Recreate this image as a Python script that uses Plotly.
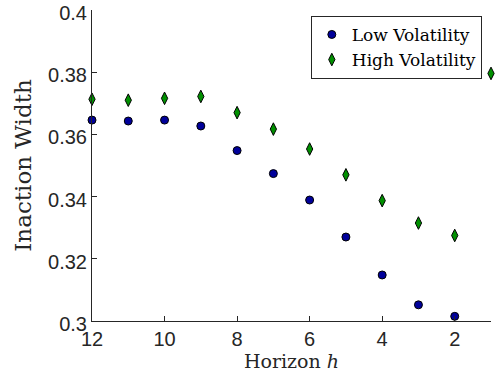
import plotly.graph_objects as go

# Horizon values (x axis runs from 12 down to 1)
horizon = [12, 11, 10, 9, 8, 7, 6, 5, 4, 3, 2, 1]

# Inaction width by horizon for each volatility regime
low_vol = [0.3646, 0.3643, 0.3646, 0.3627, 0.3548, 0.3474, 0.3389, 0.3270, 0.3148, 0.3052, 0.3015, None]
high_vol = [0.3713, 0.3710, 0.3716, 0.3722, 0.3670, 0.3617, 0.3553, 0.3470, 0.3387, 0.3315, 0.3275, 0.3796]

x_ticks = [12, 10, 8, 6, 4, 2]
y_ticks = [0.30, 0.32, 0.34, 0.36, 0.38, 0.40]
y_tick_text = ["0.3", "0.32", "0.34", "0.36", "0.38", "0.4"]

axis_color = "#262626"
serif = "DejaVu Serif"
sans = "Liberation Sans, Arial, sans-serif"

fig = go.Figure()
fig.add_trace(go.Scatter(
    x=horizon, y=low_vol, mode="markers", name="Low Volatility",
    marker=dict(symbol="circle", size=8, color="#00009a",
                line=dict(color="black", width=1)),
    cliponaxis=False,
))
fig.add_trace(go.Scatter(
    x=horizon, y=high_vol, mode="markers", name="High Volatility",
    marker=dict(symbol="diamond-tall", size=9, color="#009000",
                line=dict(color="black", width=1)),
    cliponaxis=False,
))

fig.update_layout(
    width=497, height=386,
    margin=dict(l=92, r=6, t=10, b=65, autoexpand=False),
    paper_bgcolor="white", plot_bgcolor="white",
    showlegend=True,
    legend=dict(
        x=0.977, xanchor="right", y=0.981, yanchor="top",
        bgcolor="white", bordercolor=axis_color, borderwidth=1,
        font=dict(family=serif, size=17, color="black"),
        tracegroupgap=0, itemwidth=30,
    ),
)

fig.update_xaxes(
    range=[12, 1], tickvals=x_ticks, ticktext=[str(v) for v in x_ticks],
    automargin=False,
    showline=True, linecolor=axis_color, linewidth=1,
    ticks="inside", ticklen=5, tickcolor=axis_color,
    showgrid=False, zeroline=False,
    tickfont=dict(family=sans, size=20, color=axis_color),
    title=dict(text="Horizon <i>h</i>", standoff=5,
               font=dict(family=serif, size=19, color=axis_color)),
)
fig.update_yaxes(
    range=[0.30, 0.40], tickvals=y_ticks, ticktext=y_tick_text,
    ticklabeloverflow="allow", ticklabelshift=3, automargin=False,
    showline=True, linecolor=axis_color, linewidth=1,
    ticks="inside", ticklen=5, tickcolor=axis_color,
    showgrid=False, zeroline=False,
    tickfont=dict(family=sans, size=20, color=axis_color),
    title=dict(text="Inaction Width", standoff=10,
               font=dict(family=serif, size=23, color=axis_color)),
)

fig.write_html("out.html")
